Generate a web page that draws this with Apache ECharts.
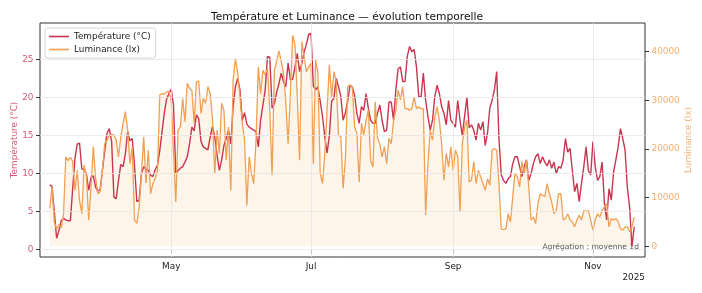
<!DOCTYPE html>
<html>
<head>
<meta charset="utf-8">
<script src="https://cdn.jsdelivr.net/npm/echarts@6/dist/echarts.min.js"></script>
<style>
html, body { margin: 0; padding: 0; background: #fff; }
#chart { width: 702px; height: 293px; }
</style>
</head>
<body>
<div id="chart"></div>
<script>
// daily means, starting 2025-03-09
const startDay = [2025, 2, 9]
const temperature = [
  8.5, 8.3, 5.0, 1.5, 2.5, 3.8, 4.1, 3.9, 3.8, 3.8,
  8.0, 12.0, 13.9, 14.0, 10.6, 10.5, 10.0, 7.8, 9.5, 9.7,
  8.2, 7.7, 7.9, 10.5, 13.0, 15.3, 15.9, 14.2, 6.9, 6.7,
  9.1, 11.2, 10.9, 12.6, 15.5, 14.3, 14.6, 11.0, 6.3, 6.5,
  10.0, 10.9, 10.6, 10.4, 9.8, 9.6, 10.5, 11.1, 13.0, 15.5,
  18.0, 19.8, 20.5, 21.1, 19.0, 10.0, 10.4, 10.7, 10.9, 11.5,
  12.2, 13.9, 16.1, 15.6, 17.7, 17.2, 14.2, 13.5, 13.3, 13.1,
  14.8, 16.2, 14.8, 12.4, 10.4, 11.8, 13.7, 14.6, 15.7, 13.9,
  18.8, 21.4, 22.5, 21.0, 17.0, 18.0, 16.5, 16.1, 15.9, 15.7,
  15.5, 13.5, 17.0, 19.0, 21.0, 25.4, 25.3, 18.6, 19.2, 20.7,
  21.8, 23.2, 22.1, 21.4, 24.5, 22.3, 22.4, 24.0, 25.8, 23.4,
  24.5, 26.0, 27.0, 28.3, 28.4, 21.5, 21.0, 21.4, 19.5, 17.5,
  14.8, 12.7, 15.0, 19.5, 19.9, 22.5, 21.4, 20.1, 17.0, 18.0,
  19.5, 21.6, 21.4, 20.3, 17.9, 16.6, 18.8, 18.3, 20.5, 18.6,
  17.0, 16.6, 16.6, 17.9, 19.0, 17.0, 15.5, 15.7, 19.4, 19.4,
  17.0, 21.0, 23.8, 24.0, 22.1, 22.1, 25.4, 26.7, 26.0, 26.3,
  24.0, 20.1, 20.1, 23.2, 19.6, 17.5, 15.7, 17.0, 20.1, 21.6,
  20.5, 18.8, 17.9, 16.4, 19.6, 17.0, 16.6, 16.1, 19.6, 17.0,
  15.0, 17.5, 20.0, 16.0, 16.4, 15.7, 14.4, 16.6, 15.7, 16.8,
  13.7, 15.3, 18.6, 19.6, 21.0, 23.4, 14.5, 9.8, 9.1, 8.7,
  9.3, 9.6, 11.3, 12.2, 12.2, 10.9, 9.6, 10.9, 11.8, 9.1,
  10.0, 11.3, 12.2, 12.6, 11.3, 12.2, 11.5, 11.0, 11.8, 10.7,
  11.5, 10.0, 10.9, 10.7, 11.8, 14.6, 12.8, 13.3, 10.4, 7.6,
  8.7, 6.3, 8.7, 10.9, 13.5, 10.4, 9.8, 14.2, 10.9, 9.1,
  9.6, 11.5, 6.1, 3.9, 8.0, 6.5, 10.2, 11.8, 13.5, 15.9,
  14.6, 13.1, 8.2, 5.6, 0.4, 3.0
]
const luminance = [
  7800, 12200, 5000, 3500, 4500, 3800, 6500, 18400, 17600, 18300,
  17500, 11500, 15600, 9500, 6700, 16700, 14500, 5400, 12200, 20500,
  14000, 10800, 11200, 15600, 21100, 21800, 22900, 23000, 22900, 21800,
  18400, 22500, 25300, 27700, 23900, 17000, 20500, 5400, 4700, 8100,
  15000, 22500, 13000, 19800, 10800, 12900, 14000, 15600, 31100, 31400,
  31300, 31800, 31800, 30000, 19500, 9100, 23900, 24600, 30400, 25600,
  33500, 32500, 32100, 25300, 33800, 34000, 27300, 30400, 29400, 32800,
  31400, 26300, 15000, 23900, 19100, 29400, 28000, 17700, 24500, 11500,
  34200, 38600, 35600, 30700, 25300, 22000, 8400, 18400, 15000, 12900,
  21800, 36900, 31400, 36200, 35200, 36600, 28000, 14600, 36200, 38000,
  40200, 38000, 35600, 29400, 21100, 31400, 43400, 41400, 30700, 17700,
  42100, 39000, 35900, 36900, 37600, 17000, 38300, 35600, 15000, 12900,
  19100, 28000, 37300, 30700, 35900, 33800, 22900, 22500, 11900, 18000,
  32800, 33200, 32800, 24600, 23200, 13200, 25300, 22900, 25900, 28000,
  17700, 16300, 29700, 22200, 21100, 18400, 20500, 17000, 22200, 21100,
  25900, 28000, 32100, 30100, 32800, 28300, 28300, 28000, 28300, 30700,
  28300, 28700, 28300, 28300, 6400, 17000, 23900, 21800, 26600, 28700,
  25900, 21100, 13600, 19100, 16300, 20500, 15600, 19800, 18400, 7100,
  21100, 24500, 25900, 13200, 13600, 17400, 12900, 15600, 14300, 12900,
  11500, 13900, 12600, 19800, 20100, 19800, 12900, 3600, 3400, 3600,
  6700, 5000, 10200, 15000, 14300, 12200, 17400, 15000, 17700, 12200,
  5400, 6000, 4700, 8800, 10800, 10500, 10200, 12900, 10800, 9100,
  6700, 7400, 10800, 10800, 5400, 5700, 6700, 5400, 5000, 4000,
  5400, 6400, 5400, 7400, 7100, 7400, 5400, 3300, 5400, 6700,
  6000, 7400, 8100, 8800, 4000, 5700, 5400, 5700, 5000, 3600,
  3300, 4000, 4000, 3000, 4000, 6000
]
const monthTicks = [[2025, 4, 1], [2025, 6, 1], [2025, 8, 1], [2025, 10, 1]]
const tempTicks = [0, 5, 10, 15, 20, 25]
const lumTicks = [0, 10000, 20000, 30000, 40000]
const monthNames = ['Jan', 'Feb', 'Mar', 'Apr', 'May', 'Jun', 'Jul', 'Aug', 'Sep', 'Oct', 'Nov', 'Dec']

const TEMP = '#c9354f'
const TEMP_TXT = '#d65a78'
const LUM = '#f0a050'
const LUM_TXT = '#f2b071'
const FONT = 'DejaVu Sans'

const dayTime = i => new Date(startDay[0], startDay[1], startDay[2] + i).getTime()
const tempData = temperature.map((v, i) => [dayTime(i), v])
const lumData = luminance.map((v, i) => [dayTime(i), v])
const xTickValues = monthTicks.map(t => new Date(t[0], t[1], t[2]).getTime())

const chart = echarts.init(document.getElementById('chart'))

const gridLines = xTickValues.map(t => ({ xAxis: t })).concat(tempTicks.map(v => ({ yAxis: v })))

const option = {
  animation: false,
  backgroundColor: '#fff',
  title: {
    text: 'Température et Luminance — évolution temporelle',
    left: 342, top: 7, textAlign: 'center',
    textStyle: { fontFamily: FONT, fontSize: 10.7, fontWeight: 'normal', color: '#111' }
  },
  legend: {
    orient: 'vertical', left: 45, top: 28,
    itemWidth: 20, itemHeight: 1.6, itemGap: 4,
    padding: [4, 5, 4, 4],
    borderColor: '#d6d6d6', borderWidth: 1, borderRadius: 3,
    backgroundColor: 'rgba(255,255,255,0.85)',
    textStyle: { fontFamily: FONT, fontSize: 8.9, color: '#222' },
    data: [
      { name: 'Température (°C)', icon: 'rect' },
      { name: 'Luminance (lx)', icon: 'rect' }
    ]
  },
  grid: {
    left: 40, right: 57, top: 23, bottom: 36,
    outerBoundsMode: 'none',
    show: true, borderColor: '#333', borderWidth: 1, backgroundColor: 'transparent'
  },
  xAxis: {
    type: 'value',
    min: new Date(2025, 2, 4, 18).getTime(),
    max: new Date(2025, 10, 23, 17).getTime(),
    axisLine: { show: false },
    axisTick: { show: true, customValues: xTickValues, length: 4, lineStyle: { color: '#333' } },
    axisLabel: {
      customValues: xTickValues, margin: 5.5,
      formatter: v => monthNames[new Date(v).getMonth()],
      fontFamily: FONT, fontSize: 8.9, color: '#222'
    },
    splitLine: { show: false }
  },
  yAxis: [{
    type: 'value', position: 'left', min: -0.97, max: 29.78,
    name: 'Température (°C)', nameLocation: 'middle', nameGap: 21, nameRotate: 90,
    nameMoveOverlap: false,
    nameTextStyle: { fontFamily: FONT, fontSize: 8.9, color: TEMP_TXT },
    axisLine: { show: false },
    axisTick: { show: true, customValues: tempTicks, length: 4, lineStyle: { color: '#333' } },
    axisLabel: { customValues: tempTicks, margin: 6.5, fontFamily: FONT, fontSize: 8.9, color: TEMP_TXT },
    splitLine: { show: false }
  }, {
    type: 'value', position: 'right', min: -2200, max: 45910,
    name: 'Luminance (lx)', nameLocation: 'middle', nameGap: 39, nameRotate: 90,
    nameMoveOverlap: false,
    nameTextStyle: { fontFamily: FONT, fontSize: 8.9, color: LUM_TXT },
    axisLine: { show: false },
    axisTick: { show: true, customValues: lumTicks, length: 4, lineStyle: { color: '#333' } },
    axisLabel: {
      customValues: lumTicks, margin: 6.5, formatter: v => String(v),
      fontFamily: FONT, fontSize: 8.9, color: LUM_TXT
    },
    splitLine: { show: false }
  }],
  series: [{
    name: 'Température (°C)',
    type: 'line', yAxisIndex: 0,
    data: tempData,
    symbol: 'none',
    lineStyle: { color: TEMP, width: 1.4 },
    itemStyle: { color: TEMP },
    markLine: {
      silent: true, symbol: ['none', 'none'],
      label: { show: false },
      emphasis: { disabled: true },
      lineStyle: { color: '#e4e4e4', width: 0.8, type: 'solid' },
      data: gridLines
    }
  }, {
    name: 'Luminance (lx)',
    type: 'line', yAxisIndex: 1,
    data: lumData,
    symbol: 'none',
    lineStyle: { color: LUM, width: 1.3 },
    itemStyle: { color: LUM },
    areaStyle: { color: 'rgba(240,160,80,0.17)' }
  }],
  graphic: [{
    type: 'text', right: 63, top: 243,
    style: { text: 'Agrégation : moyenne 1d', fill: '#555', font: '7.6px "DejaVu Sans"' }
  }, {
    type: 'text', right: 57, top: 273,
    style: { text: '2025', fill: '#222', font: '8.9px "DejaVu Sans"' }
  }]
}

chart.setOption(option)
</script>
</body>
</html>
